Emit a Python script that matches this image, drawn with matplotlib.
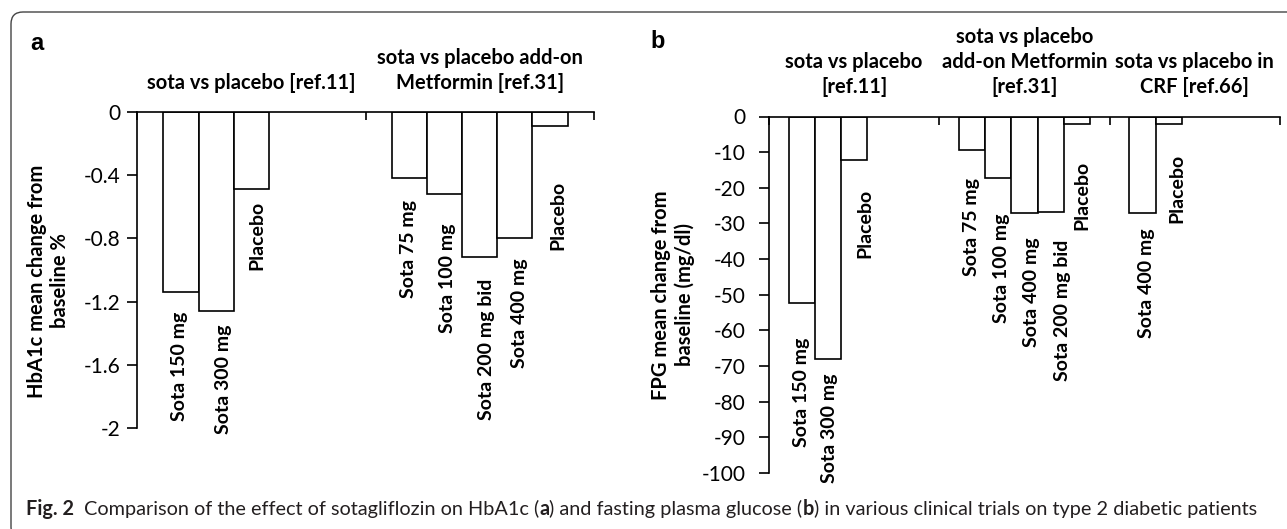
import matplotlib
matplotlib.use("Agg")
import matplotlib.pyplot as plt
import numpy as np
from matplotlib.patches import FancyBboxPatch

plt.rcParams["font.family"] = ["Lato", "DejaVu Sans"]
plt.rcParams["axes.unicode_minus"] = False

# panel a: HbA1c mean change (%)
a_groups = ["sota vs placebo [ref.11]", "sota vs placebo add-on\nMetformin [ref.31]"]
a_labels = [
    ["Sota 150 mg", "Sota 300 mg", "Placebo"],
    ["Sota 75 mg", "Sota 100 mg", "Sota 200 mg bid", "Sota 400 mg", "Placebo"],
]
a_values = [[-1.14, -1.26, -0.49], [-0.42, -0.52, -0.92, -0.80, -0.09]]
a_yticks = [0, -0.4, -0.8, -1.2, -1.6, -2]
a_yticklabels = ["0", "-0.4", "-0.8", "-1.2", "-1.6", "-2"]

# panel b: FPG mean change (mg/dl)
b_groups = [
    "sota vs placebo\n[ref.11]",
    "sota vs placebo\nadd-on Metformin\n[ref.31]",
    "sota vs placebo in\nCRF [ref.66]",
]
b_labels = [
    ["Sota 150 mg", "Sota 300 mg", "Placebo"],
    ["Sota 75 mg", "Sota 100 mg", "Sota 400 mg", "Sota 200 mg bid", "Placebo"],
    ["Sota 400 mg", "Placebo"],
]
b_values = [[-52.3, -67.9, -12.1], [-9.3, -17.3, -27.1, -26.8, -2.1], [-27.1, -2.1]]
b_yticks = [0, -10, -20, -30, -40, -50, -60, -70, -80, -90, -100]
b_yticklabels = [str(v) for v in b_yticks]

# data label nudges in pixels: sideways shift and gap below the bar end
a_dx = [[-1, 7, 6], [-1, 2.5, 6.5, 4.5, 7.5]]
a_gap = [[20, 13, 11], [22, 29, 21, 20, 55]]
b_dx = [[0, 2, 11], [-1, 3, 7, 12, 5], [4, 8]]
b_gap = [[35, 15, 29], [28, 35, 24, 28, 37], [15, 30]]

SLOTS = 5
BAR_W = 1 / 6.5
W, H = 1287, 529


def draw_panel(ax, groups, labels, values, yticks, yticklabels, ylabel, dxs, gaps, ypad, ylab_x, ylab_y):
    for i, (vals, labs) in enumerate(zip(values, labels)):
        x = i + (np.arange(len(vals)) - (SLOTS - 1) / 2) * BAR_W
        ax.bar(x, vals, BAR_W, color="white", edgecolor="black", linewidth=1.2, zorder=2)
        for xi, v, lab, dx, gap in zip(x, vals, labs, dxs[i], gaps[i]):
            ax.annotate(lab, xy=(xi, v), xytext=(dx, -gap), textcoords="offset pixels",
                        rotation=90, ha="center", va="top", fontsize=14, fontweight="bold")

    ax.set_xlim(-0.5, len(groups) - 0.5)
    ax.set_ylim(yticks[-1], 0)
    for side in ("right", "bottom"):
        ax.spines[side].set_visible(False)
    for side in ("left", "top"):
        ax.spines[side].set_linewidth(1.2)

    ax.xaxis.tick_top()
    ax.set_xticks(range(len(groups)), groups)
    ax.set_xticks(np.arange(len(groups) + 1) - 0.5, minor=True)
    ax.tick_params(axis="x", which="major", length=0, pad=14, labelsize=14.5)
    ax.tick_params(axis="x", which="minor", length=6, width=1.2, direction="in")
    for t in ax.get_xticklabels():
        t.set_fontweight("bold")
        t.set_linespacing(1.3)

    ax.set_yticks(yticks, yticklabels)
    ax.tick_params(axis="y", length=7, width=1.2, pad=ypad, labelsize=15)
    ax.set_ylabel(ylabel, fontsize=14.5, fontweight="bold", va="center", linespacing=1.2)
    ax.yaxis.set_label_coords(ylab_x, ylab_y)


fig = plt.figure(figsize=(W / 100, H / 100), dpi=100)

ax_a = fig.add_axes([137 / W, 1 - 428 / H, 457 / W, 316 / H])
draw_panel(ax_a, a_groups, a_labels, a_values, a_yticks, a_yticklabels,
           "HbA1c mean change from\nbaseline %", a_dx, a_gap, 5, -0.193, 0.465)

ax_b = fig.add_axes([769 / W, 1 - 473 / H, 511 / W, 356.5 / H])
draw_panel(ax_b, b_groups, b_labels, b_values, b_yticks, b_yticklabels,
           "FPG mean change from\nbaseline (mg/dl)", b_dx, b_gap, 10, -0.188, 0.5)

fig.text(30 / W, 1 - 50 / H, "a", fontsize=17, fontweight="bold",
         family="Liberation Sans", va="baseline")
fig.text(650 / W, 1 - 48 / H, "b", fontsize=17, fontweight="bold",
         family="Liberation Sans", va="baseline")

# rounded frame around the figure
frame = FancyBboxPatch((11, -10), 1310, 517 + 10, boxstyle="round,pad=0,rounding_size=12",
                       transform=None, facecolor="none", edgecolor="#444444", linewidth=1.0)
fig.patches.append(frame)

# caption with bold pieces
caption_parts = [
    ("Fig. 2", "bold", 10),
    ("Comparison of the effect of sotagliflozin on HbA1c (", "normal", 0),
    ("a", "bold", 0),
    (") and fasting plasma glucose (", "normal", 0),
    ("b", "bold", 0),
    (") in various clinical trials on type 2 diabetic patients", "normal", 0),
]
renderer = fig.canvas.get_renderer()
cx = 26
for text, weight, gap in caption_parts:
    t = fig.text(cx / W, 14 / H, text, fontsize=14.3, fontweight=weight,
                 color="#231f20", va="baseline")
    cx += t.get_window_extent(renderer).width + gap

fig.savefig("out.png", dpi=100)
